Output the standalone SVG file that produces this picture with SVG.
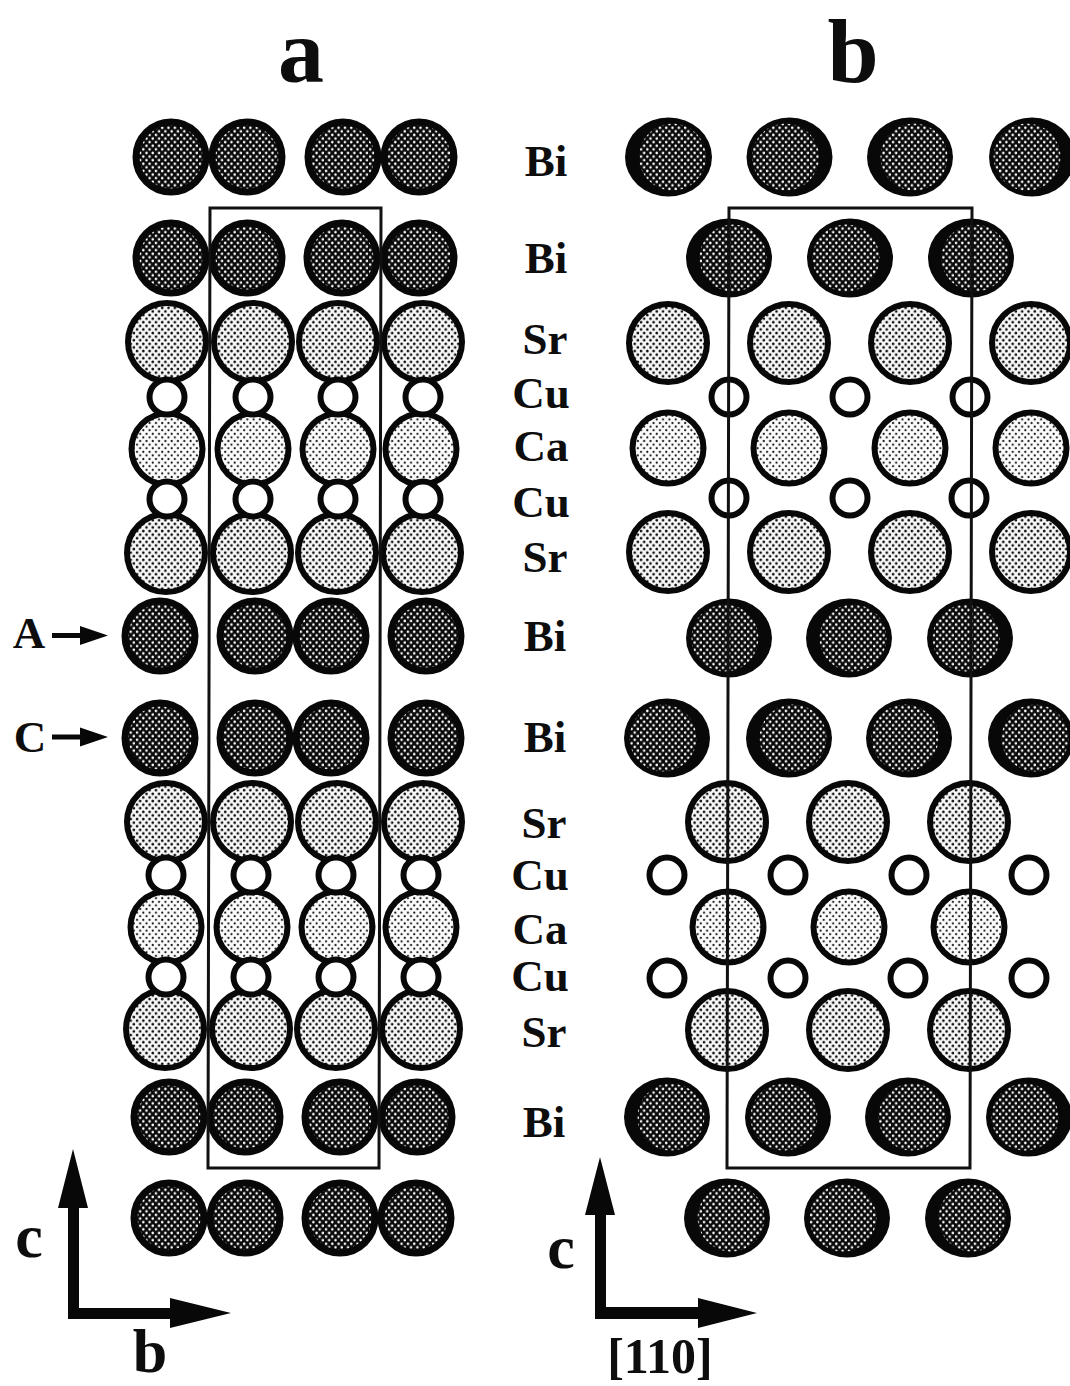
<svg xmlns="http://www.w3.org/2000/svg" width="1070" height="1386" viewBox="0 0 1070 1386">
<style>
text{font-family:"Liberation Serif","Times New Roman",serif;font-weight:bold;fill:#0d0d0d}
.t{font-size:92px;text-anchor:middle}
.l{font-size:45px;text-anchor:middle}
.x{font-size:62px;text-anchor:middle}
.bi{fill:url(#dk);stroke:#080808;stroke-width:7}
.bo{fill:#080808}
.bn{fill:url(#dk)}
.sr{fill:url(#lt);stroke:#080808;stroke-width:6}
.ca{fill:url(#lt2);stroke:#080808;stroke-width:6}
.cu{fill:#fff;stroke:#080808;stroke-width:6}
.frame{fill:none;stroke:#111;stroke-width:3}
.ax{fill:#080808}
</style>
<defs>
<pattern id="dk" width="7" height="8" patternUnits="userSpaceOnUse" patternTransform="scale(0.9)">
<rect width="7" height="8" fill="#0a0a0a"/>
<circle cx="1.75" cy="2" r="1.4" fill="#fff"/><circle cx="5.25" cy="6" r="1.4" fill="#fff"/>
</pattern>
<pattern id="lt" width="7" height="8" patternUnits="userSpaceOnUse" patternTransform="scale(0.9)">
<rect width="7" height="8" fill="#f8f8f8"/>
<circle cx="1.75" cy="2" r="1.5" fill="#0a0a0a"/><circle cx="5.25" cy="6" r="1.5" fill="#0a0a0a"/>
</pattern>
<pattern id="lt2" width="7" height="8" patternUnits="userSpaceOnUse" patternTransform="scale(0.9)">
<rect width="7" height="8" fill="#fcfcfc"/>
<circle cx="1.75" cy="2" r="1.2" fill="#111"/><circle cx="5.25" cy="6" r="1.2" fill="#111"/>
</pattern>
</defs>
<rect width="1070" height="1386" fill="#fff"/>

<g id="panel-a-atoms">
<g id="a-bi1"><circle class="bi" cx="171" cy="157" r="35"/><circle class="bi" cx="247" cy="157" r="35"/><circle class="bi" cx="343" cy="157" r="35"/><circle class="bi" cx="419" cy="157" r="35"/></g>
<g id="a-bi2"><circle class="bi" cx="171" cy="258" r="35"/><circle class="bi" cx="247" cy="258" r="35"/><circle class="bi" cx="342" cy="258" r="35"/><circle class="bi" cx="419" cy="258" r="35"/></g>
<g id="a-sr1"><circle class="sr" cx="167" cy="342" r="39"/><circle class="sr" cx="253" cy="342" r="39"/><circle class="sr" cx="338" cy="342" r="39"/><circle class="sr" cx="423" cy="342" r="39"/></g>
<g id="a-ca1"><circle class="ca" cx="167" cy="449" r="35.500"/><circle class="ca" cx="253" cy="449" r="35.500"/><circle class="ca" cx="338" cy="449" r="35.500"/><circle class="ca" cx="421" cy="449" r="35.500"/></g>
<g id="a-sr2"><circle class="sr" cx="166" cy="553" r="39"/><circle class="sr" cx="252" cy="553" r="39"/><circle class="sr" cx="337" cy="553" r="39"/><circle class="sr" cx="422" cy="553" r="39"/></g>
<g id="a-cu1"><circle class="cu" cx="167" cy="397" r="17.500"/><circle class="cu" cx="253" cy="397" r="17.500"/><circle class="cu" cx="338" cy="397" r="17.500"/><circle class="cu" cx="423" cy="397" r="17.500"/></g>
<g id="a-cu2"><circle class="cu" cx="167" cy="499" r="17.500"/><circle class="cu" cx="253" cy="499" r="17.500"/><circle class="cu" cx="338" cy="499" r="17.500"/><circle class="cu" cx="423" cy="499" r="17.500"/></g>
<g id="a-bi3"><circle class="bi" cx="160" cy="636" r="35"/><circle class="bi" cx="255" cy="636" r="35"/><circle class="bi" cx="331" cy="636" r="35"/><circle class="bi" cx="426" cy="636" r="35"/></g>
<g id="a-bi4"><circle class="bi" cx="160" cy="738" r="35"/><circle class="bi" cx="255" cy="738" r="35"/><circle class="bi" cx="331" cy="738" r="35"/><circle class="bi" cx="426" cy="738" r="35"/></g>
<g id="a-sr3"><circle class="sr" cx="166" cy="822" r="39"/><circle class="sr" cx="252" cy="822" r="39"/><circle class="sr" cx="337" cy="822" r="39"/><circle class="sr" cx="423" cy="822" r="39"/></g>
<g id="a-ca2"><circle class="ca" cx="166" cy="927" r="35.500"/><circle class="ca" cx="252" cy="927" r="35.500"/><circle class="ca" cx="337" cy="927" r="35.500"/><circle class="ca" cx="421" cy="927" r="35.500"/></g>
<g id="a-sr4"><circle class="sr" cx="165" cy="1029" r="39"/><circle class="sr" cx="251" cy="1029" r="39"/><circle class="sr" cx="336" cy="1029" r="39"/><circle class="sr" cx="421" cy="1029" r="39"/></g>
<g id="a-cu3"><circle class="cu" cx="166" cy="875" r="17.500"/><circle class="cu" cx="251" cy="875" r="17.500"/><circle class="cu" cx="336" cy="875" r="17.500"/><circle class="cu" cx="421" cy="875" r="17.500"/></g>
<g id="a-cu4"><circle class="cu" cx="166" cy="977" r="17.500"/><circle class="cu" cx="251" cy="977" r="17.500"/><circle class="cu" cx="336" cy="977" r="17.500"/><circle class="cu" cx="421" cy="977" r="17.500"/></g>
<g id="a-bi5"><circle class="bi" cx="169" cy="1117" r="35"/><circle class="bi" cx="245" cy="1117" r="35"/><circle class="bi" cx="340" cy="1117" r="35"/><circle class="bi" cx="417" cy="1117" r="35"/></g>
<g id="a-bi6"><circle class="bi" cx="169" cy="1218" r="35"/><circle class="bi" cx="245" cy="1218" r="35"/><circle class="bi" cx="340" cy="1218" r="35"/><circle class="bi" cx="416" cy="1218" r="35"/></g>
</g>

<g id="panel-b-atoms">
<g id="b-bi1">
<ellipse class="bo" cx="668.500" cy="157" rx="43.500" ry="39.500"/><circle class="bn" cx="672.500" cy="157" r="33.500"/>
<ellipse class="bo" cx="789.500" cy="157" rx="43" ry="39.500"/><circle class="bn" cx="785.500" cy="157" r="33.500"/>
<ellipse class="bo" cx="910" cy="157" rx="43" ry="39.500"/><circle class="bn" cx="914" cy="157" r="33.500"/>
<ellipse class="bo" cx="1032" cy="157" rx="43" ry="39.500"/><circle class="bn" cx="1027" cy="157" r="33.500"/>
</g>
<g id="b-bi2">
<ellipse class="bo" cx="729" cy="258" rx="43" ry="39.500"/><circle class="bn" cx="733" cy="258" r="33.500"/>
<ellipse class="bo" cx="850" cy="258" rx="43" ry="39.500"/><circle class="bn" cx="846" cy="258" r="33.500"/>
<ellipse class="bo" cx="971" cy="258" rx="43" ry="39.500"/><circle class="bn" cx="975" cy="258" r="33.500"/>
</g>
<g id="b-sr1"><circle class="sr" cx="668" cy="343" r="39"/><circle class="sr" cx="789" cy="343" r="39"/><circle class="sr" cx="910" cy="343" r="39"/><circle class="sr" cx="1031" cy="343" r="39"/></g>
<g id="b-cu1"><circle class="cu" cx="729" cy="397" r="17.500"/><circle class="cu" cx="850" cy="397" r="17.500"/><circle class="cu" cx="970" cy="397" r="17.500"/></g>
<g id="b-ca1"><circle class="ca" cx="668" cy="448" r="35.500"/><circle class="ca" cx="789" cy="448" r="35.500"/><circle class="ca" cx="910" cy="448" r="35.500"/><circle class="ca" cx="1031" cy="448" r="35.500"/></g>
<g id="b-cu2"><circle class="cu" cx="729" cy="498" r="17.500"/><circle class="cu" cx="850" cy="498" r="17.500"/><circle class="cu" cx="969" cy="498" r="17.500"/></g>
<g id="b-sr2"><circle class="sr" cx="668" cy="552" r="39"/><circle class="sr" cx="789" cy="552" r="39"/><circle class="sr" cx="910" cy="552" r="39"/><circle class="sr" cx="1031" cy="552" r="39"/></g>
<g id="b-bi3">
<ellipse class="bo" cx="729" cy="638" rx="43" ry="39.500"/><circle class="bn" cx="725" cy="638" r="33.500"/>
<ellipse class="bo" cx="849" cy="638" rx="43" ry="39.500"/><circle class="bn" cx="853" cy="638" r="33.500"/>
<ellipse class="bo" cx="970" cy="638" rx="43" ry="39.500"/><circle class="bn" cx="966" cy="638" r="33.500"/>
</g>
<g id="b-bi4">
<ellipse class="bo" cx="667" cy="738" rx="43" ry="39.500"/><circle class="bn" cx="663" cy="738" r="33.500"/>
<ellipse class="bo" cx="789" cy="738" rx="43" ry="39.500"/><circle class="bn" cx="793" cy="738" r="33.500"/>
<ellipse class="bo" cx="909" cy="738" rx="43" ry="39.500"/><circle class="bn" cx="905" cy="738" r="33.500"/>
<ellipse class="bo" cx="1031" cy="738" rx="43" ry="39.500"/><circle class="bn" cx="1035" cy="738" r="33.500"/>
</g>
<g id="b-sr3"><circle class="sr" cx="727" cy="822" r="39"/><circle class="sr" cx="848" cy="822" r="39"/><circle class="sr" cx="969" cy="822" r="39"/></g>
<g id="b-cu3"><circle class="cu" cx="667" cy="875" r="17.500"/><circle class="cu" cx="788" cy="875" r="17.500"/><circle class="cu" cx="909" cy="875" r="17.500"/><circle class="cu" cx="1029" cy="875" r="17.500"/></g>
<g id="b-ca2"><circle class="ca" cx="728" cy="927" r="35.500"/><circle class="ca" cx="849" cy="927" r="35.500"/><circle class="ca" cx="969" cy="927" r="35.500"/></g>
<g id="b-cu4"><circle class="cu" cx="667" cy="978" r="17.500"/><circle class="cu" cx="788" cy="978" r="17.500"/><circle class="cu" cx="908" cy="978" r="17.500"/><circle class="cu" cx="1029" cy="978" r="17.500"/></g>
<g id="b-sr4"><circle class="sr" cx="727" cy="1030" r="39"/><circle class="sr" cx="848" cy="1030" r="39"/><circle class="sr" cx="969" cy="1030" r="39"/></g>
<g id="b-bi5">
<ellipse class="bo" cx="667" cy="1117" rx="43" ry="39.500"/><circle class="bn" cx="671" cy="1117" r="33.500"/>
<ellipse class="bo" cx="788" cy="1117" rx="43" ry="39.500"/><circle class="bn" cx="784" cy="1117" r="33.500"/>
<ellipse class="bo" cx="908" cy="1117" rx="43" ry="39.500"/><circle class="bn" cx="912" cy="1117" r="33.500"/>
<ellipse class="bo" cx="1029" cy="1117" rx="43" ry="39.500"/><circle class="bn" cx="1025" cy="1117" r="33.500"/>
</g>
<g id="b-bi6">
<ellipse class="bo" cx="727" cy="1218" rx="43" ry="39.500"/><circle class="bn" cx="731" cy="1218" r="33.500"/>
<ellipse class="bo" cx="847" cy="1218" rx="43" ry="39.500"/><circle class="bn" cx="843" cy="1218" r="33.500"/>
<ellipse class="bo" cx="968" cy="1218" rx="43" ry="39.500"/><circle class="bn" cx="972" cy="1218" r="33.500"/>
</g>
</g>

<g id="connectors">
<polygon id="cell-a" class="frame" points="210,208 381,208 379,1168 208,1168"/>
<polygon id="cell-b" class="frame" points="729,208 972,208 970,1168 727,1168"/>
<polygon id="arrow-A" class="ax" points="52,633 80,633 80,626 108,635.500 80,645 80,638 52,638"/>
<polygon id="arrow-C" class="ax" points="52,734.500 80,734.500 80,727.500 108,737 80,746.500 80,739.500 52,739.500"/>
<polygon id="axes-a" class="ax" points="68,1319 68,1208 58,1208 73,1149 88,1208 79,1208 79,1308 170,1308 170,1298 231,1313 170,1328 170,1319"/>
<polygon id="axes-b" class="ax" points="595,1319 595,1215 585,1215 600,1157 615,1215 606,1215 606,1307 698,1307 698,1298 757,1313 698,1328 698,1319"/>
</g>

<g id="labels">
<text class="t" x="301" y="82">a</text>
<text class="t" x="853" y="82">b</text>
<text class="l" x="546" y="176">Bi</text>
<text class="l" x="546" y="273">Bi</text>
<text class="l" x="545" y="354">Sr</text>
<text class="l" x="541" y="408">Cu</text>
<text class="l" x="541" y="461">Ca</text>
<text class="l" x="541" y="517">Cu</text>
<text class="l" x="545" y="572">Sr</text>
<text class="l" x="545" y="651">Bi</text>
<text class="l" x="545" y="752">Bi</text>
<text class="l" x="544" y="838">Sr</text>
<text class="l" x="540" y="890">Cu</text>
<text class="l" x="540" y="944">Ca</text>
<text class="l" x="540" y="991">Cu</text>
<text class="l" x="544" y="1047">Sr</text>
<text class="l" x="544" y="1137">Bi</text>
<text class="l" x="29" y="648">A</text>
<text class="l" x="30" y="752">C</text>
<text class="x" x="29" y="1257">c</text>
<text class="x" x="150" y="1372">b</text>
<text class="x" x="561" y="1268">c</text>
<text x="660" y="1373" text-anchor="middle" font-size="50">[110]</text>
</g>
</svg>
